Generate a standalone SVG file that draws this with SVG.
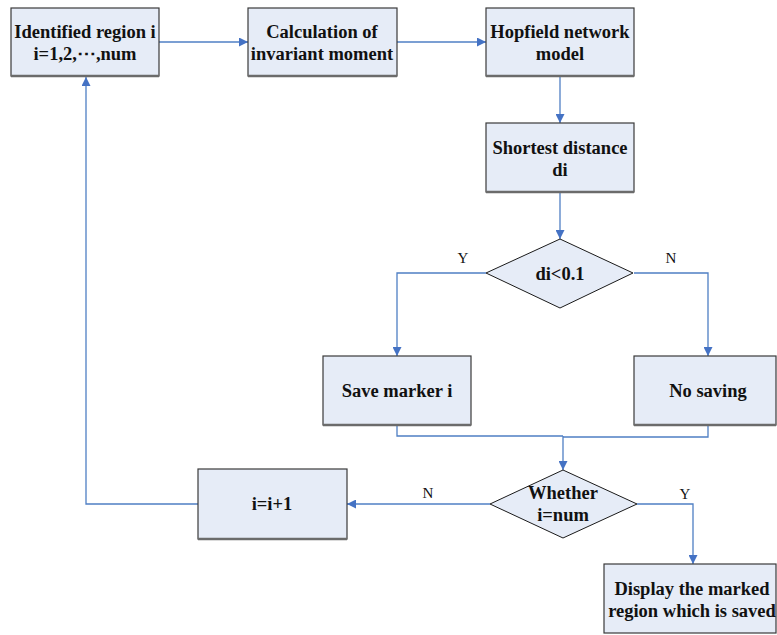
<svg xmlns="http://www.w3.org/2000/svg" width="777" height="635" viewBox="0 0 777 635">
<style>
.box{fill:#E6ECF7;stroke:#3a3a3a;stroke-width:1.2}
.sh{stroke:#6b6b6b;stroke-width:2.5;fill:none}
.dm{fill:#E6ECF7;stroke:#1a1a1a;stroke-width:1}
.t{font-family:"Liberation Serif","Times New Roman",serif;font-weight:bold;font-size:18.5px;fill:#111;text-anchor:middle}
.l{font-family:"Liberation Serif","Times New Roman",serif;font-size:15px;fill:#111;text-anchor:middle}
.c{fill:none;stroke:#4F7FC4;stroke-width:1.3;marker-end:url(#a)}
.c0{fill:none;stroke:#4F7FC4;stroke-width:1.3}
</style>
<defs>
<marker id="a" viewBox="0 0 10 10" refX="10" refY="5" markerWidth="9" markerHeight="9" markerUnits="userSpaceOnUse" orient="auto">
<path d="M0,0 L10,5 L0,10 z" fill="#4472C4"/>
</marker>
</defs>
<g id="connectors">
<path class="c" d="M159,42 H248"/>
<path class="c" d="M397,42 H486"/>
<path class="c" d="M560,77 V123"/>
<path class="c" d="M560,192 V239"/>
<path class="c" d="M486,273 H397 V356"/>
<path class="c" d="M634,273 H708 V356"/>
<path class="c0" d="M397,426 V436 H563"/>
<path class="c0" d="M708,426 V437 H563"/>
<path class="c" d="M563,436 V470"/>
<path class="c" d="M490,504 H347"/>
<path class="c" d="M637,504 H693 V564"/>
<path class="c" d="M198,504 H86 V77"/>
<text class="l" x="463" y="263">Y</text>
<text class="l" x="671" y="263">N</text>
<text class="l" x="428" y="498">N</text>
<text class="l" x="685" y="499">Y</text>
</g>
<g id="n1">
<rect class="box" x="11" y="8" width="148" height="68"/>
<path class="sh" d="M11,76 H159"/>
<text class="t" x="85" y="38">Identified region i</text>
<text class="t" x="85" y="60">i=1,2,⋯,num</text>
</g>
<g id="n2">
<rect class="box" x="248" y="8" width="149" height="68"/>
<path class="sh" d="M248,76 H397"/>
<text class="t" x="322" y="38">Calculation of</text>
<text class="t" x="322" y="60">invariant moment</text>
</g>
<g id="n3">
<rect class="box" x="486" y="8" width="148" height="68"/>
<path class="sh" d="M486,76 H634"/>
<text class="t" x="560" y="38">Hopfield network</text>
<text class="t" x="560" y="60">model</text>
</g>
<g id="n4">
<rect class="box" x="486" y="123" width="148" height="69"/>
<path class="sh" d="M486,192 H634"/>
<text class="t" x="560" y="154">Shortest distance</text>
<text class="t" x="560" y="176">di</text>
</g>
<g id="d1">
<polygon class="dm" points="560,239 633,273 560,308 486,273"/>
<text class="t" x="560" y="280">di&lt;0.1</text>
</g>
<g id="n5">
<rect class="box" x="323" y="356" width="148" height="69"/>
<path class="sh" d="M323,425 H471"/>
<text class="t" x="397" y="397">Save marker i</text>
</g>
<g id="n6">
<rect class="box" x="634" y="356" width="142" height="69"/>
<path class="sh" d="M634,425 H776"/>
<text class="t" x="708" y="397">No saving</text>
</g>
<g id="d2">
<polygon class="dm" points="563,470 637,504 563,538 490,504"/>
<text class="t" x="563" y="499">Whether</text>
<text class="t" x="563" y="521">i=num</text>
</g>
<g id="n7">
<rect class="box" x="198" y="469" width="149" height="70"/>
<path class="sh" d="M198,539 H347"/>
<text class="t" x="272" y="510">i=i+1</text>
</g>
<g id="n8">
<rect class="box" x="604" y="564" width="172" height="69"/>
<text class="t" x="692" y="595">Display the marked</text>
<text class="t" x="692" y="617">region which is saved</text>
</g>
</svg>
